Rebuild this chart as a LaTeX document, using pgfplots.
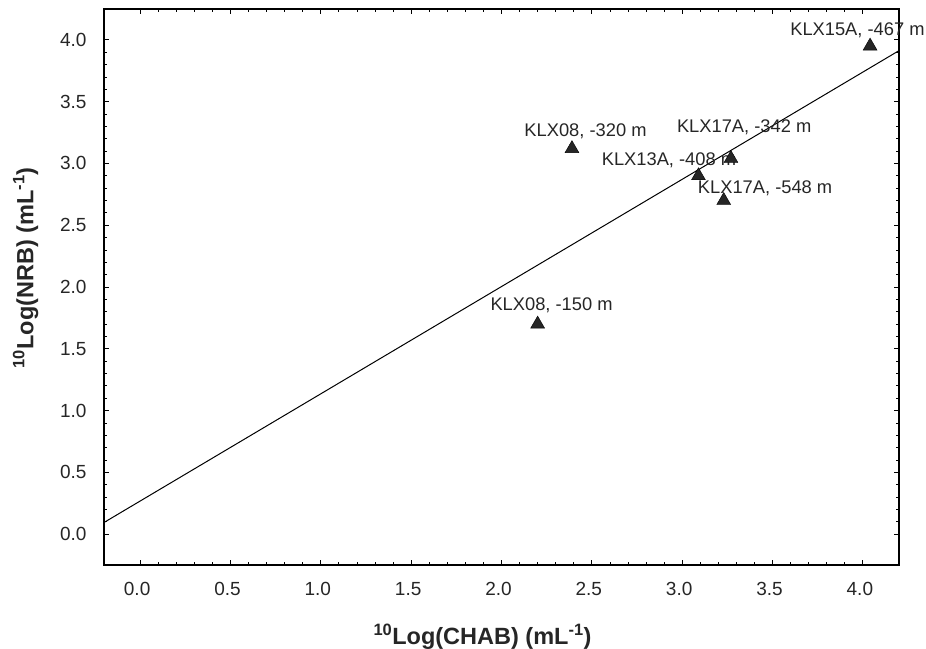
\documentclass[border=0pt]{standalone}
\usepackage{pgfplots}
\pgfplotsset{compat=1.18}
\usepackage{fontspec}
\setmainfont{Liberation Sans}
\begin{document}
\begin{tikzpicture}
\begin{axis}[
  width=795pt, height=556pt, scale only axis,
  xmin=-0.2, xmax=4.2, ymin=-0.25, ymax=4.25,
  xtick={0,0.5,...,4.0}, ytick={0,0.5,...,4.0},
  minor x tick num=4, minor y tick num=4,
  tick align=inside,
  major tick length=5pt, minor tick length=3pt,
  tick style={black, line width=0.8pt},
  axis line style={black, line width=1.2pt},
  /pgf/number format/assume math mode=true,
  /pgf/number format/.cd, fixed, fixed zerofill, precision=1, /pgfplots/.cd,
  ticklabel style={font=\fontsize{19}{20}\selectfont, text=black!85},
  xticklabel style={yshift=-14pt, xshift=-3pt},
  yticklabel style={xshift=-14pt},
  xlabel={\textbf{\textsuperscript{10}Log(CHAB) (mL\textsuperscript{-1})}},
  ylabel={\textbf{\textsuperscript{10}Log(NRB) (mL\textsuperscript{-1})}},
  label style={font=\fontsize{23.5}{25}\selectfont, text=black!85},
  xlabel style={at={(ticklabel cs:0.5)}, anchor=center, yshift=-37pt, xshift=-19pt},
  ylabel style={at={(ticklabel cs:0.5)}, anchor=center, yshift=31pt, xshift=19pt},
  clip=false,
]
\coordinate (bl) at (rel axis cs:0,0);
\coordinate (tr) at (rel axis cs:1,1);
\addplot[black, line width=1pt] coordinates {(-0.2,0.094) (4.2,3.913)};
\addplot[only marks, mark=triangle*, mark size=8pt, mark options={fill=black!85, draw=black}] coordinates {
(2.20,1.70) (2.39,3.12) (3.27,3.04) (3.09,2.90) (3.23,2.70) (4.04,3.95)
};
\begin{scope}[every node/.style={font=\fontsize{18.3}{20}\selectfont, text=black!85}]
\node at (axis cs:2.277,1.855) {KLX08, -150 m};
\node at (axis cs:2.465,3.263) {KLX08, -320 m};
\node at (axis cs:3.343,3.291) {KLX17A, -342 m};
\node at (axis cs:2.927,3.028) {KLX13A, -408 m};
\node at (axis cs:3.459,2.802) {KLX17A, -548 m};
\node at (axis cs:3.97,4.08) {KLX15A, -467 m};
\end{scope}
\end{axis}
\pgfresetboundingbox
\path ([shift={(-104pt,-83pt)}]bl) rectangle ([shift={(27pt,9pt)}]tr);
\end{tikzpicture}
\end{document}
